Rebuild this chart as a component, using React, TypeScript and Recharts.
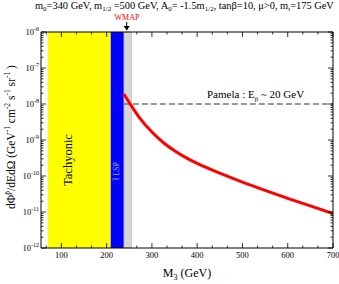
import React from 'react';
import { ComposedChart, Line, XAxis, YAxis, ReferenceArea, Customized } from 'recharts';

// ---- data ----
const curveM3 = [238, 250, 262, 275, 300, 325, 350, 375, 400, 450, 500, 550, 600, 650, 700];
const curveFlux = [1.9e-8, 1.1e-8, 6.46e-9, 3.8e-9, 1.66e-9, 8.51e-10, 5.01e-10, 3.24e-10, 2.24e-10, 1.2e-10, 6.76e-11, 3.98e-11, 2.4e-11, 1.48e-11, 9.1e-12];
const pamelaM3 = [238, 700];
const pamelaFlux = [1e-8, 1e-8];
const tachyonicRange = [70, 209];
const stopLspRange = [209, 238];
const wmapRange = [238, 255];
const xDomain = [55, 700];
const yDomain = [1e-12, 1e-6];
const xMajorTicks = [100, 200, 300, 400, 500, 600, 700];
const yMajorExps = [-12, -11, -10, -9, -8, -7, -6];

const curveData = curveM3.map((m, i) => ({ m3: m, flux: curveFlux[i] }));
const pamelaData = pamelaM3.map((m, i) => ({ m3: m, flux: pamelaFlux[i] }));

const xTicks: number[] = [];
for (let k = 2; k <= 21; k++) xTicks.push((k * 100) / 3);
const xTicksIn = xTicks.filter((v) => v >= xDomain[0] && v <= xDomain[1] + 1e-6);
const yTicks: number[] = [];
for (const e of yMajorExps) {
  for (let m = 1; m <= 9; m++) {
    if (e === -6 && m > 1) break;
    yTicks.push(m * Math.pow(10, e));
  }
}

const FONT = '"Liberation Serif", "Times New Roman", serif';
const fontStyle = { fontFamily: FONT };
const isMajorX = (v: number) => xMajorTicks.some((t) => Math.abs(t - v) < 1e-6);
const isMajorY = (v: number) => {
  const l = Math.log10(v);
  return Math.abs(l - Math.round(l)) < 1e-6;
};

const BottomTick = (p: any) => {
  const { x, y, payload } = p;
  const v = payload.value;
  const major = isMajorX(v);
  return (
    <g>
      <line x1={x} x2={x} y1={y} y2={y - (major ? 5 : 2.5)} stroke="#000" strokeWidth={0.8} />
      {major && (
        <text x={x} y={y + 10} textAnchor="middle" style={fontStyle} fontSize={8.5} fill="#000">
          {Math.round(v)}
        </text>
      )}
    </g>
  );
};
const TopTick = (p: any) => {
  const { x, y, payload } = p;
  const major = isMajorX(payload.value);
  return <line x1={x} x2={x} y1={y} y2={y + (major ? 5 : 2.5)} stroke="#000" strokeWidth={0.8} />;
};
const LeftTick = (p: any) => {
  const { x, y, payload } = p;
  const v = payload.value;
  const major = isMajorY(v);
  const e = Math.round(Math.log10(v));
  return (
    <g>
      <line x1={x} x2={x + (major ? 5 : 2.5)} y1={y} y2={y} stroke="#000" strokeWidth={0.8} />
      {major && (
        <text x={x - 2} y={y + 3} textAnchor="end" style={fontStyle} fontSize={8.5} fill="#000">
          10
          <tspan dy={-4} fontSize={6}>{String(e)}</tspan>
        </text>
      )}
    </g>
  );
};
const RightTick = (p: any) => {
  const { x, y, payload } = p;
  const major = isMajorY(payload.value);
  return <line x1={x} x2={x - (major ? 5 : 2.5)} y1={y} y2={y} stroke="#000" strokeWidth={0.8} />;
};

const RotLabel = (p: any) => {
  const { viewBox, text, dx = 0, dy = 0, size = 12, color = '#000' } = p;
  if (!viewBox) return null;
  const cx = viewBox.x + viewBox.width / 2 + dx;
  const cy = viewBox.y + viewBox.height / 2 + dy;
  return (
    <text
      x={cx}
      y={cy}
      fontSize={size}
      fill={color}
      textAnchor="middle"
      dominantBaseline="central"
      transform={`rotate(-90 ${cx} ${cy})`}
      style={fontStyle}
    >
      {text}
    </text>
  );
};

const Annotations = () => (
  <g style={fontStyle}>
    <text x={35} y={9} fontSize={10.4} fill="#000" style={fontStyle}>
      m<tspan dy={2} fontSize={7}>0</tspan>
      <tspan dy={-2}>=340 GeV, m</tspan>
      <tspan dy={2} fontSize={7}>1/2</tspan>
      <tspan dy={-2}> =500 GeV, A</tspan>
      <tspan dy={2} fontSize={7}>0</tspan>
      <tspan dy={-2}>= -1.5m</tspan>
      <tspan dy={2} fontSize={7}>1/2</tspan>
      <tspan dy={-2}>, tanβ=10, μ&gt;0, m</tspan>
      <tspan dy={2} fontSize={7}>t</tspan>
      <tspan dy={-2}>=175 GeV</tspan>
    </text>
    <text x={127} y={20} fontSize={8} fill="#ff0000" textAnchor="middle" style={fontStyle}>WMAP</text>
    <line x1={126.7} x2={126.7} y1={22} y2={28} stroke="#000" strokeWidth={1} />
    <path d="M123.7,26 L126.7,30.5 L129.7,26 Z" fill="#000" />
    <text x={207} y={98} fontSize={11} fill="#000" style={fontStyle}>
      Pamela  : E<tspan dy={3} fontSize={7}>p̄</tspan>
      <tspan dy={-3}> ~ 20 GeV</tspan>
    </text>
    <text
      x={11}
      y={137}
      fontSize={11.5}
      fill="#000"
      textAnchor="middle"
      dominantBaseline="central"
      transform="rotate(-90 11 137)"
      style={fontStyle}
    >
      dΦ<tspan dy={-4} fontSize={7.5}>p̄</tspan>
      <tspan dy={4}>/dEdΩ (GeV</tspan>
      <tspan dy={-4} fontSize={7.5}>-1</tspan>
      <tspan dy={4}> cm</tspan>
      <tspan dy={-4} fontSize={7.5}>-2</tspan>
      <tspan dy={4}> s</tspan>
      <tspan dy={-4} fontSize={7.5}>-1</tspan>
      <tspan dy={4}> sr</tspan>
      <tspan dy={-4} fontSize={7.5}>-1</tspan>
      <tspan dy={4}> )</tspan>
    </text>
    <text x={187} y={277} fontSize={12} fill="#000" textAnchor="middle" style={fontStyle}>
      M<tspan dy={3} fontSize={8}>3</tspan>
      <tspan dy={-3}> (GeV)</tspan>
    </text>
  </g>
);

export default function App() {
  return (
    <div style={{ position: 'absolute', left: 0, top: 0, width: 339, height: 284, background: '#fff' }}>
      <ComposedChart width={339} height={284} margin={{ top: 31, right: 5, bottom: 6, left: 11 }}>
        <ReferenceArea
          x1={tachyonicRange[0]}
          x2={tachyonicRange[1]}
          fill="#ffff00"
          fillOpacity={1}
          stroke="none"
          label={<RotLabel text="Tachyonic" dx={-11} dy={20} size={12.5} />}
        />
        <ReferenceArea
          x1={stopLspRange[0]}
          x2={stopLspRange[1]}
          fill="#0000ff"
          fillOpacity={1}
          stroke="none"
          label={<RotLabel text="t̃ LSP" dx={-0.8} dy={31} size={8} color="#aab0ff" />}
        />
        <ReferenceArea
          x1={wmapRange[0]}
          x2={wmapRange[1]}
          fill="#d6d6d6"
          fillOpacity={1}
          stroke="#888"
          strokeDasharray="1 1"
          strokeWidth={0.6}
        />
        <XAxis
          dataKey="m3"
          type="number"
          domain={xDomain}
          allowDataOverflow
          ticks={xTicksIn}
          interval={0}
          tickSize={0}
          tickMargin={0}
          tick={<BottomTick />}
          axisLine={{ stroke: '#000', strokeWidth: 1 }}
          tickLine={false}
          height={30}
        />
        <XAxis
          xAxisId="t"
          orientation="top"
          dataKey="m3"
          type="number"
          domain={xDomain}
          allowDataOverflow
          ticks={xTicksIn}
          interval={0}
          tickSize={0}
          tickMargin={0}
          tick={<TopTick />}
          axisLine={{ stroke: '#000', strokeWidth: 1 }}
          tickLine={false}
          height={1}
        />
        <YAxis
          type="number"
          scale="log"
          domain={yDomain}
          allowDataOverflow
          ticks={yTicks}
          interval={0}
          tickSize={0}
          tickMargin={0}
          tick={<LeftTick />}
          axisLine={{ stroke: '#000', strokeWidth: 1 }}
          tickLine={false}
          width={30}
        />
        <YAxis
          yAxisId="r"
          orientation="right"
          type="number"
          scale="log"
          domain={yDomain}
          allowDataOverflow
          ticks={yTicks}
          interval={0}
          tickSize={0}
          tickMargin={0}
          tick={<RightTick />}
          axisLine={{ stroke: '#000', strokeWidth: 1 }}
          tickLine={false}
          width={1}
        />
        <Line
          data={pamelaData}
          dataKey="flux"
          stroke="#777"
          strokeWidth={1.5}
          strokeDasharray="6 3"
          dot={false}
          isAnimationActive={false}
          type="linear"
        />
        <Line
          data={curveData}
          dataKey="flux"
          stroke="#ff0000"
          strokeWidth={3}
          dot={false}
          isAnimationActive={false}
          type="monotone"
        />
        <Customized component={Annotations} />
      </ComposedChart>
    </div>
  );
}
